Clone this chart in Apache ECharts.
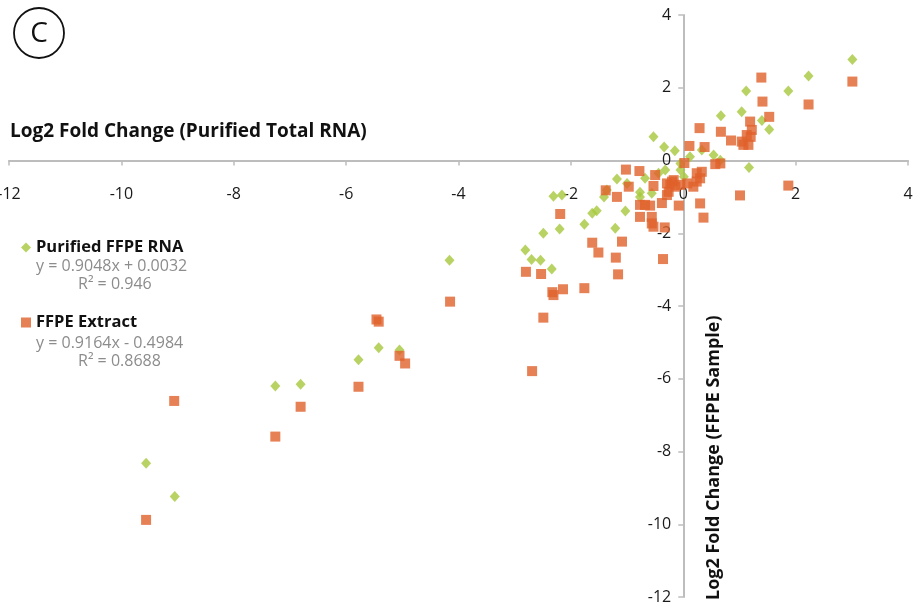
<!DOCTYPE html>
<html>
<head>
<meta charset="utf-8">
<title>Log2 Fold Change comparison</title>
<script src="https://cdn.jsdelivr.net/npm/echarts@6/dist/echarts.min.js"></script>
<style>
  html, body { margin: 0; padding: 0; background: #ffffff; }
  #chart { width: 924px; height: 608px; }
</style>
</head>
<body>
<div id="chart"></div>
<script>
// Log2 fold change: purified total RNA (x) vs. FFPE sample (y)
const seriesNames = ['Purified FFPE RNA', 'FFPE Extract'];
const axisMin = -12;
const axisMax = 4;
const axisStep = 2;

// Purified FFPE RNA
const purifiedX = [3.01, 2.23, 1.87, 1.12, 1.04, 1.40, 1.53, 0.67, 1.17, -0.53,
  -0.34, -0.15, 0.33, 0.54, 0.66, 0.12, -0.05, -0.05, 0.01, -0.32,
  -0.44, -1.18, -1.00, -0.68, -0.77, -0.77, -0.56, -1.41, -1.36, -1.03,
  -1.21, -1.76, -1.62, -1.54, -2.31, -2.16, -2.49, -2.20, -2.81, -2.70,
  -2.54, -2.34, -4.16, -5.78, -5.42, -5.05, -7.26, -6.81, -9.56, -9.05];
const purifiedY = [2.78, 2.32, 1.91, 1.91, 1.34, 1.10, 0.85, 1.23, -0.19, 0.65,
  0.37, 0.27, 0.29, 0.15, 0.01, 0.10, -0.08, -0.26, -0.45, -0.26,
  -0.35, -0.51, -0.63, -0.49, -0.87, -1.00, -0.90, -1.00, -0.81, -1.39,
  -1.86, -1.75, -1.45, -1.38, -0.98, -0.95, -2.00, -1.88, -2.46, -2.72,
  -2.74, -2.98, -2.74, -5.48, -5.15, -5.21, -6.20, -6.15, -8.32, -9.24];

// FFPE Extract
const extractX = [3.01, 2.23, 1.87, 1.39, 1.41, 1.53, 1.19, 1.22, 1.20, 1.13,
  1.04, 1.07, 1.16, 0.85, 0.67, 0.29, 0.11, 0.38, 0.02, 0.57,
  0.66, 1.01, 0.30, 0.36, -1.02, -0.78, -0.50, -0.53, -0.97, -1.38,
  -1.18, 0.24, 0.33, 0.30, 0.24, 0.18, -0.17, -0.23, -0.26, -0.29,
  -0.38, -0.08, -0.77, -0.68, -0.59, -0.77, -0.56, -0.56, -0.53, -0.33,
  -1.09, -1.20, -0.36, -1.51, -1.62, -1.16, -2.19, -2.80, -2.53, -2.33,
  -2.31, -2.14, -1.76, -2.49, -2.69, -4.15, -5.46, -5.42, -5.05, -4.95,
  -5.78, -7.26, -6.81, -9.06, -9.56, -0.29, -0.20, -0.14, -0.05, 0.07];
const extractY = [2.17, 1.54, -0.69, 2.28, 1.62, 1.20, 1.07, 0.84, 0.65, 0.70,
  0.52, 0.43, 0.43, 0.55, 0.79, 0.89, 0.40, 0.37, -0.07, -0.10,
  -0.08, -0.96, -1.18, -1.57, -0.25, -0.29, -0.40, -0.70, -0.72, -0.82,
  -1.00, -0.35, -0.31, -0.49, -0.58, -0.72, -0.54, -0.67, -0.86, -0.95,
  -1.17, -1.24, -1.22, -1.22, -1.24, -1.55, -1.55, -1.73, -1.82, -1.84,
  -2.23, -2.67, -2.71, -2.53, -2.26, -3.13, -1.47, -3.06, -3.12, -3.62,
  -3.70, -3.54, -3.51, -4.32, -5.79, -3.88, -4.37, -4.43, -5.37, -5.58,
  -6.22, -7.59, -6.77, -6.61, -9.88, -0.63, -0.58, -0.72, -0.67, -0.63];

// Trendline annotations shown under each legend entry
const purifiedFit = ['y = 0.9048x + 0.0032', 'R\u00B2 = 0.946'];
const extractFit = ['y = 0.9164x - 0.4984', 'R\u00B2 = 0.8688'];

const xTitle = 'Log2 Fold Change (Purified Total RNA)';
const yTitle = 'Log2 Fold Change (FFPE Sample)';

function pairs(xs, ys) {
  return xs.map((x, i) => [x, ys[i]]);
}

const FONT = '"Open Sans", "Noto Sans", sans-serif';
const GREEN = '#a6c83c';
const ORANGE = '#e0602a';
const AXIS_GRAY = '#bdbdbd';
const FIT_GRAY = '#8c8c8c';

// Plot area and the offsets that bring both axes through the origin
const W = 924, H = 608;
const G = { left: 9, right: 16, top: 15, bottom: 11 };
const plotW = W - G.left - G.right;
const plotH = H - G.top - G.bottom;
const zeroFracX = (0 - axisMin) / (axisMax - axisMin);
const zeroFracY = (axisMax - 0) / (axisMax - axisMin);
const xAxisOffset = -(plotH * (1 - zeroFracY));
const yAxisOffset = -(plotW * zeroFracX);

const axisCommon = {
  type: 'value',
  min: axisMin,
  max: axisMax,
  interval: axisStep,
  axisLine: { show: true, onZero: false, lineStyle: { color: AXIS_GRAY, width: 2 } },
  axisTick: { show: true, length: 5, lineStyle: { color: AXIS_GRAY, width: 1.5 } },
  splitLine: { show: false },
  axisLabel: {
    color: '#1a1a1a',
    fontFamily: FONT,
    fontSize: 16,
    showMinLabel: true,
    showMaxLabel: true,
    hideOverlap: false
  }
};

const chart = echarts.init(document.getElementById('chart'), null, { renderer: 'canvas' });

chart.setOption({
  backgroundColor: '#ffffff',
  animation: false,
  grid: {
    left: G.left, right: G.right, top: G.top, bottom: G.bottom,
    containLabel: false,
    outerBoundsMode: 'none'
  },
  xAxis: Object.assign({}, axisCommon, {
    position: 'bottom',
    offset: xAxisOffset,
    axisLabel: Object.assign({}, axisCommon.axisLabel, { margin: 26 })
  }),
  yAxis: Object.assign({}, axisCommon, {
    position: 'left',
    offset: yAxisOffset,
    axisLabel: Object.assign({}, axisCommon.axisLabel, { margin: 12 })
  }),
  legend: {
    orient: 'vertical',
    left: 16,
    top: 234,
    itemWidth: 10,
    itemHeight: 10,
    itemGap: 58,
    textStyle: { color: '#111111', fontFamily: FONT, fontSize: 16.5, fontWeight: 'bold' },
    data: seriesNames
  },
  series: [
    {
      name: seriesNames[0],
      type: 'scatter',
      symbol: 'diamond',
      symbolSize: [10, 11],
      itemStyle: { color: GREEN },
      data: pairs(purifiedX, purifiedY),
      z: 2
    },
    {
      name: seriesNames[1],
      type: 'scatter',
      symbol: 'rect',
      symbolSize: 10,
      itemStyle: { color: ORANGE },
      data: pairs(extractX, extractY),
      z: 3
    }
  ],
  graphic: [
    {
      type: 'circle',
      shape: { cx: 39, cy: 33, r: 25 },
      style: { fill: 'none', stroke: '#111111', lineWidth: 1.8 }
    },
    {
      type: 'text',
      x: 39, y: 34,
      style: { text: 'C', fill: '#111111', font: '500 28px ' + FONT, align: 'center', verticalAlign: 'middle' }
    },
    {
      type: 'text',
      x: 10, y: 132,
      style: { text: xTitle, fill: '#111111', font: 'bold 19px ' + FONT, verticalAlign: 'middle' }
    },
    {
      type: 'text',
      x: 714, y: 600,
      rotation: Math.PI / 2,
      style: { text: yTitle, fill: '#111111', font: 'bold 18px ' + FONT, verticalAlign: 'middle' }
    },
    {
      type: 'text',
      x: 36, y: 266,
      style: { text: purifiedFit[0], fill: FIT_GRAY, font: '16px ' + FONT, verticalAlign: 'middle' }
    },
    {
      type: 'text',
      x: 78, y: 284,
      style: { text: purifiedFit[1], fill: FIT_GRAY, font: '16px ' + FONT, verticalAlign: 'middle' }
    },
    {
      type: 'text',
      x: 36, y: 343,
      style: { text: extractFit[0], fill: FIT_GRAY, font: '16px ' + FONT, verticalAlign: 'middle' }
    },
    {
      type: 'text',
      x: 78, y: 361,
      style: { text: extractFit[1], fill: FIT_GRAY, font: '16px ' + FONT, verticalAlign: 'middle' }
    }
  ]
});
</script>
</body>
</html>
